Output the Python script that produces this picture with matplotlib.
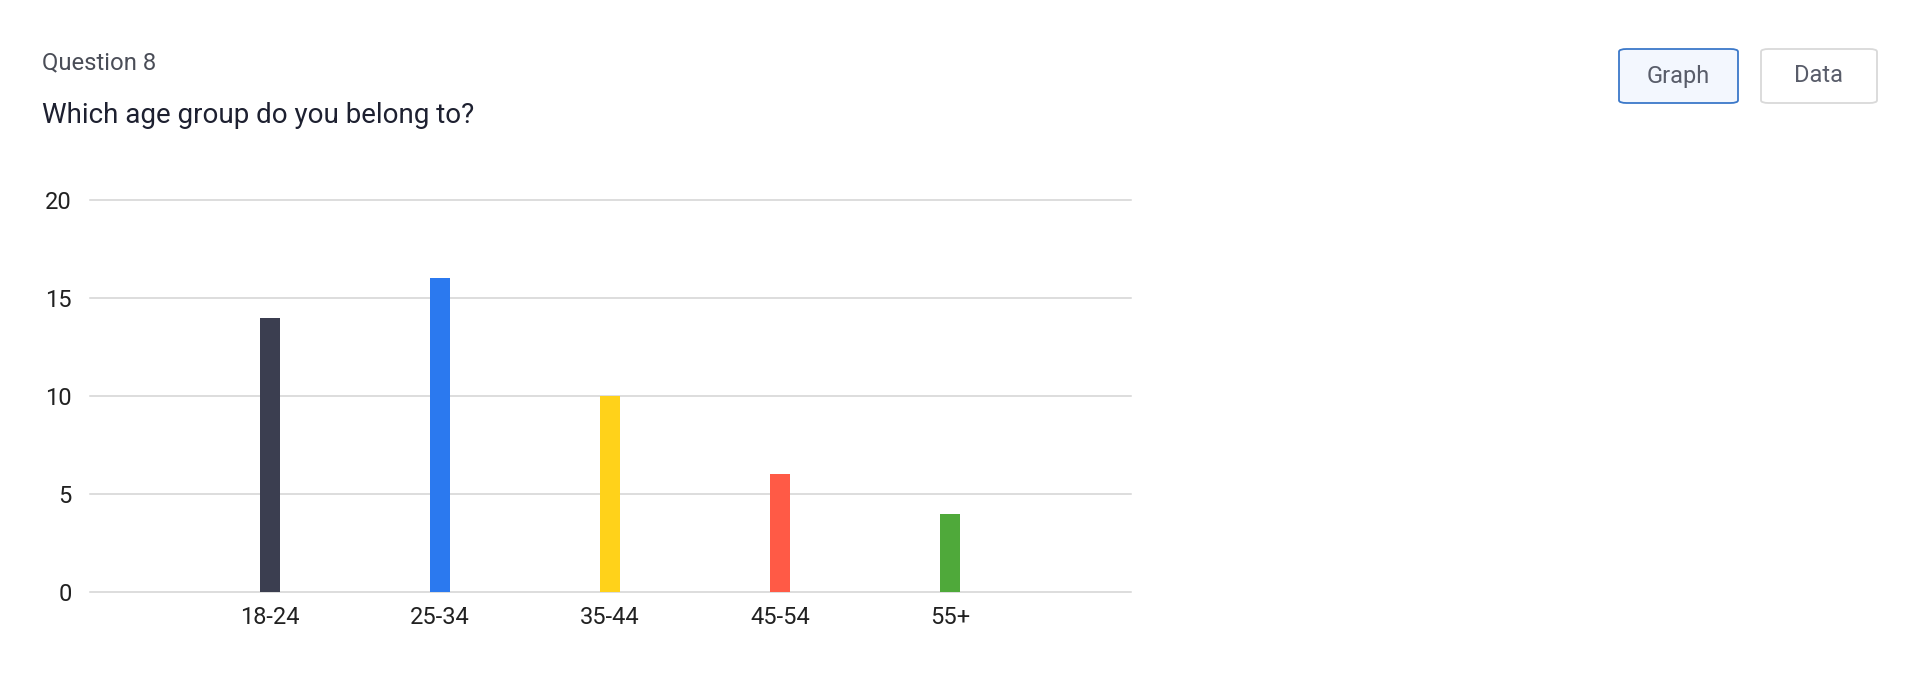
import matplotlib
matplotlib.use("Agg")
import matplotlib.pyplot as plt
from matplotlib.patches import FancyBboxPatch

plt.rcParams['font.family'] = ['Roboto', 'DejaVu Sans']

# data
age_groups = ["18-24", "25-34", "35-44", "45-54", "55+"]
counts = [14, 16, 10, 6, 4]
bar_colors = ["#3b3e50", "#2b79ef", "#ffd21a", "#ff5a46", "#4fa93a"]
y_ticks = [0, 5, 10, 15, 20]

W, H = 1920, 676
fig = plt.figure(figsize=(W / 100, H / 100), dpi=100)

def fx(px):
    return px / W

def fy(py):
    return 1 - py / H

# header texts
fig.text(fx(42), fy(69), "Question 8", fontsize=17.2, color="#4a4d57", va="baseline")
fig.text(fx(42), fy(123), "Which age group do you belong to?", fontsize=20,
         color="#1d2030", va="baseline")

# Graph / Data toggle buttons
def button(x0, x1, label, face, edge):
    box = FancyBboxPatch((fx(x0), fy(103)), fx(x1 - x0), (103 - 49) / H,
                         boxstyle="round,pad=0,rounding_size=0.004",
                         transform=fig.transFigure, facecolor=face,
                         edgecolor=edge, linewidth=1.3)
    fig.patches.append(box)
    fig.text(fx((x0 + x1) / 2), fy(76), label, fontsize=17, color="#595d6a",
             ha="center", va="center")

button(1619, 1738, "Graph", "#f3f7fe", "#3b78c9")
button(1761, 1877, "Data", "#ffffff", "#d9d9d9")

# chart area
ax = fig.add_axes([fx(90), fy(592), fx(1131 - 90), (592 - 200) / H])
x = list(range(len(age_groups)))
ax.bar(x, counts, width=0.118, color=bar_colors, zorder=3)

for v in y_ticks:
    ax.axhline(v, color="#d3d3d3", linewidth=1.1, zorder=1, clip_on=False)

ax.set_xlim(-1.06, 5.065)
ax.set_ylim(0, 20)
ax.set_xticks(x)
ax.set_xticklabels(age_groups)
ax.set_yticks(y_ticks)
ax.tick_params(axis="both", length=0, labelsize=17, colors="#212121")
ax.tick_params(axis="y", pad=13)
ax.tick_params(axis="x", pad=10)
for s in ax.spines.values():
    s.set_visible(False)

fig.savefig("out.png", dpi=100)
